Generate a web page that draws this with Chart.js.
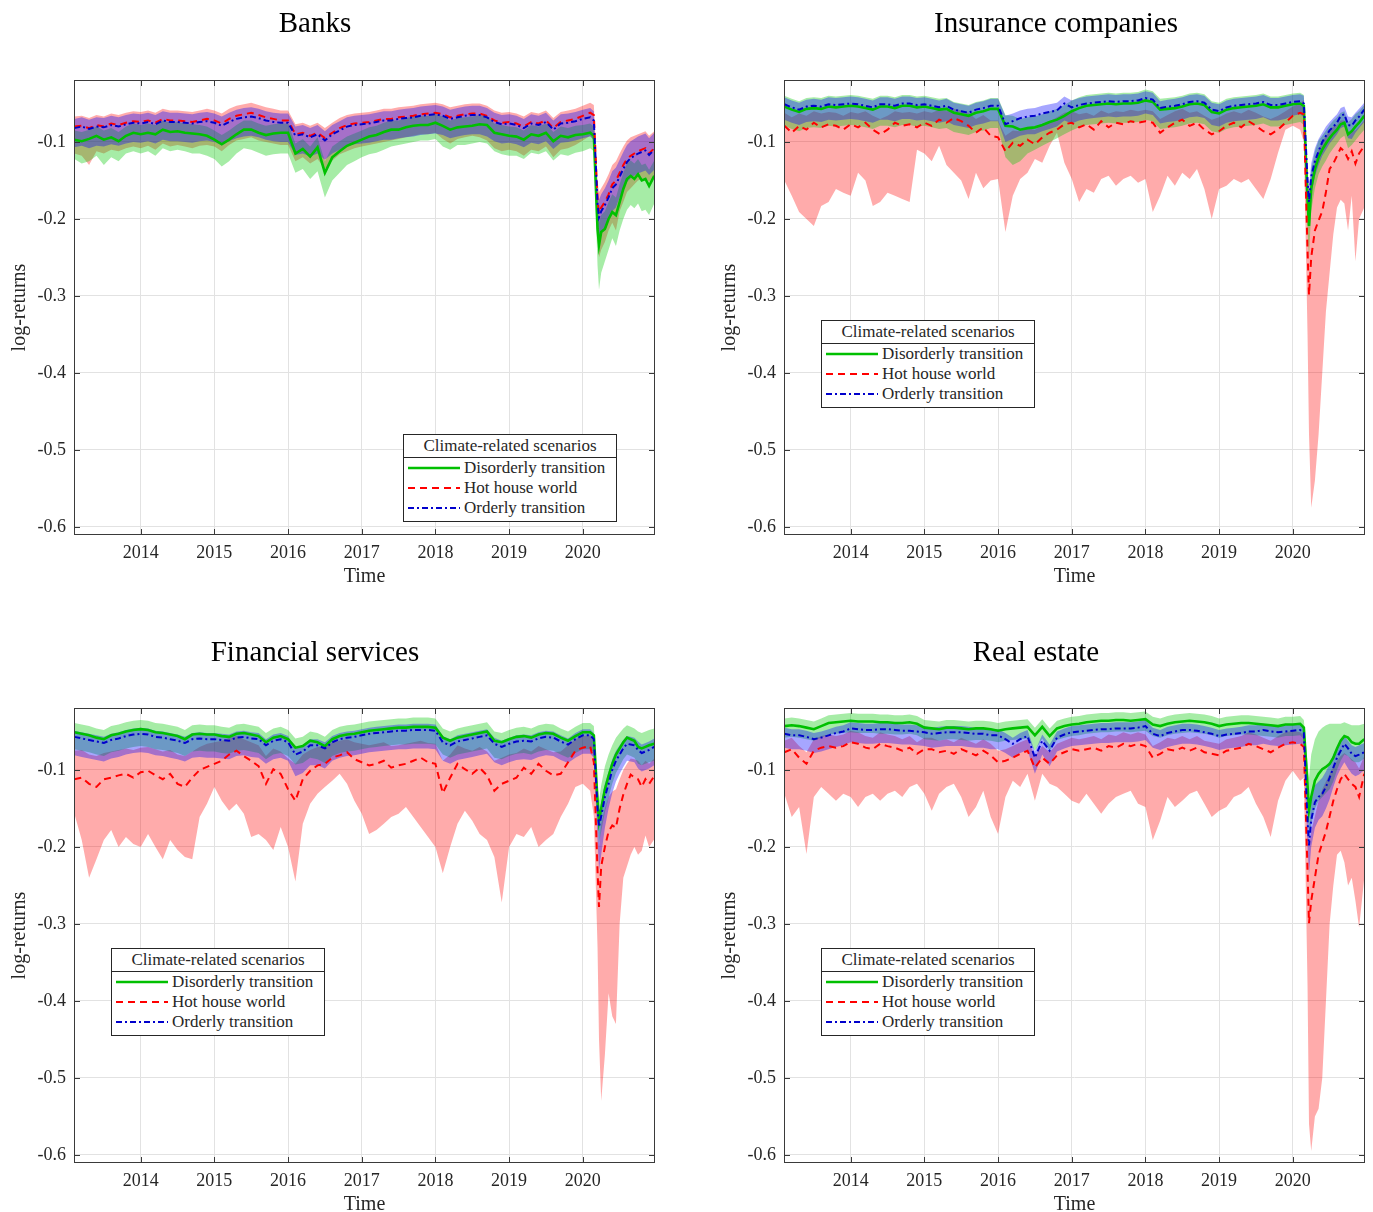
<!DOCTYPE html>
<html>
<head>
<meta charset="utf-8">
<script src="https://cdn.jsdelivr.net/npm/chart.js@4.4.0/dist/chart.umd.min.js"></script>
<style>
  body { margin: 0; width: 1373px; height: 1212px; overflow: hidden; background: #fff; position: relative; }
  canvas { position: absolute; }
  .ttl { position: absolute; width: 600px; text-align: center; font: 29px 'Liberation Serif', 'Times New Roman', serif; line-height: 34px; color: #000; }
  .lg { position: absolute; width: 212px; border: 1px solid #262626; background: #fff; font: 17px 'Liberation Serif', 'Times New Roman', serif; color: #262626; padding-bottom: 3px; }
  .lg .lt { height: 22px; line-height: 22px; text-align: center; border-bottom: 1px solid #262626; }
  .lg .row { height: 20px; display: flex; align-items: center; }
  .lg svg { margin-left: 3px; margin-right: 3px; }
</style>
</head>
<body>
<canvas id="c1" width="686" height="590" style="left:0;top:0"></canvas>
<canvas id="c2" width="663" height="590" style="left:710px;top:0"></canvas>
<canvas id="c3" width="686" height="590" style="left:0;top:628px"></canvas>
<canvas id="c4" width="663" height="590" style="left:710px;top:628px"></canvas>
<script>
// time axis (decimal years), finer around the 2020 crash
const dates = [2013.1,2013.2,2013.3,2013.4,2013.5,2013.6,2013.7,2013.8,2013.9,
  2014.0,2014.1,2014.2,2014.3,2014.4,2014.5,2014.6,2014.7,2014.8,2014.9,
  2015.0,2015.1,2015.2,2015.3,2015.4,2015.5,2015.6,2015.7,2015.8,2015.9,
  2016.0,2016.1,2016.2,2016.3,2016.4,2016.5,2016.6,2016.7,2016.8,2016.9,
  2017.0,2017.1,2017.2,2017.3,2017.4,2017.5,2017.6,2017.7,2017.8,2017.9,
  2018.0,2018.1,2018.2,2018.3,2018.4,2018.5,2018.6,2018.7,2018.8,2018.9,
  2019.0,2019.1,2019.2,2019.3,2019.4,2019.5,2019.6,2019.7,2019.8,2019.9,
  2020.0,2020.1,
  2020.15,2020.2,2020.22,2020.25,2020.3,2020.35,2020.4,2020.45,2020.5,2020.55,2020.6,2020.65,2020.7,2020.75,2020.8,2020.85,2020.9,2020.97];

const legendTitle = 'Climate-related scenarios';
const scenarioNames = ['Disorderly transition', 'Hot house world', 'Orderly transition'];
const yearTicks = [2014, 2015, 2016, 2017, 2018, 2019, 2020];
const yTicks = [-0.6, -0.5, -0.4, -0.3, -0.2, -0.1];

// all series values are log-returns x 1000

// Banks
const banksGreen = [-97,-99,-96,-92,-97,-94,-99,-92,-88,
  -90,-88,-90,-84,-87,-86,-88,-89,-90,-92,
  -97,-103,-97,-90,-84,-84,-88,-91,-89,-88,
  -88,-115,-109,-119,-107,-140,-120,-112,-105,-101,
  -97,-93,-91,-87,-84,-84,-81,-79,-78,-78,
  -75,-79,-84,-81,-80,-79,-77,-78,-88,-90,
  -92,-93,-97,-90,-92,-88,-99,-92,-94,-91,
  -90,-88,
  -92,-213,-234,-217,-213,-200,-191,-195,-178,-161,-148,-144,-148,-142,-150,-148,-157,-144];
const banksGreenLo = [-122,-128,-125,-118,-130,-120,-125,-115,-112,
  -115,-112,-118,-108,-112,-110,-112,-115,-115,-118,
  -122,-132,-125,-115,-108,-110,-114,-118,-116,-115,
  -115,-140,-135,-148,-138,-172,-150,-140,-130,-125,
  -120,-116,-114,-110,-106,-104,-102,-100,-98,-98,
  -96,-106,-110,-104,-104,-102,-100,-102,-112,-116,
  -118,-118,-122,-114,-116,-112,-124,-116,-118,-114,
  -112,-108,
  -112,-260,-292,-270,-255,-240,-225,-235,-215,-200,-188,-182,-186,-180,-190,-188,-195,-180];
const banksGreenHi = [-85,-87,-84,-80,-85,-82,-87,-80,-76,
  -78,-76,-78,-72,-75,-74,-76,-77,-78,-80,
  -85,-91,-85,-78,-72,-72,-76,-79,-77,-76,
  -76,-102,-96,-106,-94,-125,-106,-99,-93,-89,
  -85,-81,-79,-75,-72,-72,-69,-67,-66,-66,
  -63,-67,-72,-69,-68,-67,-65,-66,-76,-78,
  -80,-81,-85,-78,-80,-76,-87,-80,-82,-79,
  -78,-76,
  -80,-190,-205,-195,-190,-178,-168,-172,-155,-140,-128,-124,-128,-122,-130,-128,-136,-124];
const banksRed = [-80,-79,-82,-78,-80,-76,-78,-75,-73,
  -74,-72,-75,-70,-72,-72,-73,-74,-72,-70,
  -72,-76,-70,-66,-64,-62,-65,-68,-70,-72,
  -72,-90,-88,-92,-88,-95,-88,-82,-78,-76,
  -75,-74,-72,-70,-70,-68,-67,-66,-64,-63,
  -62,-64,-68,-66,-64,-63,-63,-66,-72,-75,
  -74,-76,-80,-74,-76,-72,-82,-74,-72,-70,
  -66,-62,
  -65,-175,-192,-185,-178,-168,-155,-150,-140,-130,-122,-118,-115,-112,-110,-108,-115,-108];
const banksRedLo = [-115,-118,-130,-112,-115,-110,-112,-108,-106,
  -108,-105,-110,-102,-106,-104,-106,-108,-105,-104,
  -106,-112,-104,-98,-96,-94,-98,-100,-102,-104,
  -104,-125,-120,-128,-122,-135,-124,-116,-112,-108,
  -106,-104,-102,-100,-98,-96,-94,-92,-90,-90,
  -88,-96,-102,-96,-94,-92,-94,-98,-108,-112,
  -110,-112,-118,-110,-112,-106,-120,-110,-108,-104,
  -98,-92,
  -98,-225,-250,-240,-230,-215,-205,-215,-190,-178,-165,-160,-155,-150,-148,-146,-152,-145];
const banksRedHi = [-67,-66,-69,-65,-67,-63,-65,-62,-60,
  -61,-59,-62,-57,-59,-59,-60,-61,-59,-57,
  -59,-63,-57,-53,-51,-49,-52,-55,-57,-59,
  -59,-77,-75,-79,-75,-82,-75,-69,-65,-63,
  -62,-61,-59,-57,-57,-55,-54,-53,-51,-50,
  -49,-51,-55,-53,-51,-50,-50,-53,-59,-62,
  -61,-63,-67,-61,-63,-59,-69,-61,-59,-57,
  -53,-49,
  -52,-150,-165,-160,-152,-142,-130,-125,-115,-106,-98,-94,-92,-90,-88,-86,-92,-86];
const banksBlue = [-82,-80,-83,-80,-81,-78,-80,-77,-75,
  -76,-74,-77,-72,-74,-74,-75,-76,-74,-73,
  -75,-79,-74,-70,-68,-67,-69,-72,-74,-75,
  -75,-92,-90,-94,-90,-98,-90,-85,-80,-78,
  -77,-76,-74,-72,-72,-70,-69,-68,-66,-65,
  -64,-66,-70,-68,-66,-65,-65,-68,-74,-77,
  -76,-78,-82,-76,-78,-74,-84,-76,-75,-73,
  -70,-68,
  -72,-180,-198,-190,-182,-172,-160,-155,-145,-135,-126,-121,-118,-115,-113,-111,-117,-110];
const banksBlueLo = [-107,-105,-108,-105,-106,-103,-105,-102,-100,
  -101,-99,-102,-97,-99,-99,-100,-101,-99,-98,
  -100,-104,-99,-95,-93,-92,-94,-97,-99,-100,
  -100,-117,-115,-119,-115,-123,-115,-110,-105,-103,
  -102,-101,-99,-97,-97,-95,-94,-93,-91,-90,
  -89,-91,-95,-93,-91,-90,-90,-93,-99,-102,
  -101,-103,-107,-101,-103,-99,-109,-101,-100,-98,
  -95,-93,
  -97,-210,-228,-220,-212,-200,-190,-185,-172,-162,-152,-147,-144,-141,-139,-137,-143,-136];
const banksBlueHi = [-70,-68,-71,-68,-69,-66,-68,-65,-63,
  -64,-62,-65,-60,-62,-62,-63,-64,-62,-61,
  -63,-67,-62,-58,-56,-55,-57,-60,-62,-63,
  -63,-80,-78,-82,-78,-86,-78,-73,-68,-66,
  -65,-64,-62,-60,-60,-58,-57,-56,-54,-53,
  -52,-54,-58,-56,-54,-53,-53,-56,-62,-65,
  -64,-66,-70,-64,-66,-62,-72,-64,-63,-61,
  -58,-56,
  -60,-160,-175,-168,-160,-150,-138,-133,-123,-113,-104,-99,-96,-93,-91,-89,-95,-88];

// Insurance companies
const insGreen = [-54,-58,-61,-57,-56,-57,-54,-55,-54,
  -53,-54,-56,-58,-54,-54,-56,-53,-53,-55,
  -54,-56,-58,-57,-62,-64,-66,-62,-60,-57,
  -57,-79,-80,-84,-82,-81,-78,-74,-71,-66,
  -60,-56,-53,-52,-51,-50,-51,-50,-50,-49,
  -46,-48,-58,-57,-56,-54,-51,-50,-52,-61,
  -63,-58,-56,-55,-54,-53,-51,-55,-55,-53,
  -51,-50,
  -53,-175,-209,-160,-135,-120,-110,-102,-95,-89,-84,-77,-75,-90,-86,-80,-75,-66];
const insGreenLo = [-79,-83,-86,-82,-81,-82,-79,-80,-79,
  -78,-79,-81,-83,-79,-79,-81,-78,-78,-80,
  -79,-81,-83,-82,-87,-89,-91,-87,-85,-82,
  -82,-120,-130,-125,-115,-110,-105,-100,-95,-90,
  -85,-81,-78,-77,-76,-75,-76,-75,-75,-74,
  -71,-73,-83,-82,-81,-79,-76,-75,-77,-86,
  -88,-83,-81,-80,-79,-78,-76,-80,-80,-78,
  -76,-74,
  -78,-215,-250,-190,-160,-142,-132,-124,-115,-108,-102,-95,-92,-108,-104,-98,-92,-84];
const insGreenHi = [-40,-44,-47,-43,-42,-43,-40,-41,-40,
  -39,-40,-42,-44,-40,-40,-42,-39,-39,-41,
  -40,-42,-44,-43,-48,-50,-52,-48,-46,-43,
  -43,-65,-66,-70,-68,-67,-64,-60,-57,-52,
  -46,-42,-39,-38,-37,-36,-37,-36,-36,-35,
  -32,-34,-44,-43,-42,-40,-37,-36,-38,-47,
  -49,-44,-42,-41,-40,-39,-37,-41,-41,-39,
  -37,-36,
  -39,-150,-180,-135,-112,-98,-92,-85,-78,-72,-68,-62,-60,-74,-70,-64,-60,-52];
const insRed = [-79,-88,-79,-84,-75,-81,-77,-79,-84,
  -77,-81,-75,-84,-90,-84,-75,-79,-77,-81,
  -75,-79,-71,-75,-69,-73,-79,-88,-81,-92,
  -94,-112,-101,-105,-97,-103,-94,-88,-84,-77,
  -75,-81,-77,-84,-73,-81,-75,-77,-73,-75,
  -73,-75,-88,-81,-75,-71,-79,-75,-84,-90,
  -86,-79,-75,-81,-73,-79,-86,-90,-84,-75,
  -66,-62,
  -64,-240,-299,-250,-215,-202,-190,-165,-135,-128,-118,-108,-112,-122,-112,-128,-115,-105];
const insRedLo = [-150,-170,-191,-200,-209,-183,-178,-161,-166,
  -170,-140,-150,-183,-178,-166,-170,-174,-178,-110,
  -115,-125,-105,-130,-140,-150,-174,-140,-160,-150,
  -148,-217,-170,-148,-140,-122,-127,-105,-88,-127,
  -148,-178,-161,-166,-148,-144,-157,-148,-144,-153,
  -148,-191,-170,-144,-157,-140,-148,-135,-161,-200,
  -161,-157,-148,-153,-148,-161,-174,-148,-114,-84,
  -79,-84,
  -100,-350,-480,-575,-540,-480,-400,-320,-270,-220,-185,-175,-180,-215,-170,-255,-200,-185];
const insRedHi = [-62,-68,-63,-66,-60,-63,-61,-62,-66,
  -61,-63,-60,-66,-70,-66,-60,-62,-61,-63,
  -60,-62,-58,-60,-57,-59,-62,-70,-65,-72,
  -72,-92,-85,-86,-82,-84,-78,-73,-68,-62,
  -60,-64,-62,-66,-59,-63,-60,-61,-58,-60,
  -58,-60,-70,-65,-60,-57,-62,-60,-66,-71,
  -68,-63,-60,-63,-58,-62,-67,-70,-66,-60,
  -54,-50,
  -45,-130,-170,-150,-125,-110,-100,-92,-85,-80,-78,-72,-72,-88,-85,-85,-80,-72];
const insBlue = [-51,-55,-58,-54,-53,-54,-51,-52,-51,
  -50,-51,-53,-55,-51,-51,-53,-50,-50,-52,
  -51,-53,-55,-53,-58,-60,-62,-58,-56,-53,
  -53,-77,-73,-69,-67,-66,-63,-61,-59,-50,
  -55,-52,-50,-49,-48,-47,-48,-47,-47,-46,
  -43,-45,-56,-54,-53,-51,-48,-47,-49,-58,
  -60,-55,-53,-52,-51,-50,-48,-52,-52,-50,
  -48,-47,
  -50,-150,-178,-145,-125,-112,-100,-92,-85,-80,-75,-66,-64,-78,-79,-72,-67,-58];
const insBlueLo = [-71,-75,-78,-74,-73,-74,-71,-72,-71,
  -70,-71,-73,-75,-71,-71,-73,-70,-70,-72,
  -71,-73,-75,-73,-78,-80,-82,-78,-76,-73,
  -73,-100,-96,-92,-90,-90,-86,-83,-80,-72,
  -76,-72,-70,-69,-68,-67,-68,-67,-67,-66,
  -63,-65,-76,-74,-73,-71,-68,-67,-69,-78,
  -80,-75,-73,-72,-71,-70,-68,-72,-72,-70,
  -66,-64,
  -68,-180,-205,-170,-145,-130,-118,-110,-102,-96,-90,-82,-80,-95,-96,-88,-82,-74];
const insBlueHi = [-42,-46,-49,-45,-44,-45,-42,-43,-42,
  -41,-42,-44,-46,-42,-42,-44,-41,-41,-43,
  -42,-44,-46,-44,-49,-51,-53,-49,-47,-44,
  -44,-66,-63,-59,-57,-56,-53,-51,-49,-41,
  -46,-43,-41,-40,-39,-38,-39,-38,-38,-37,
  -34,-36,-47,-45,-44,-42,-39,-38,-40,-49,
  -51,-46,-44,-43,-42,-41,-39,-43,-43,-41,
  -39,-38,
  -40,-135,-158,-128,-108,-96,-88,-80,-74,-69,-64,-56,-54,-67,-68,-62,-57,-49];

// Financial services
const finGreen = [-51,-53,-55,-58,-60,-55,-53,-50,-48,
  -47,-48,-51,-52,-54,-56,-60,-54,-53,-54,
  -54,-56,-57,-53,-52,-54,-56,-64,-58,-56,
  -60,-71,-69,-62,-64,-69,-60,-56,-54,-53,
  -51,-49,-48,-47,-46,-45,-45,-44,-44,-44,
  -45,-58,-62,-58,-56,-54,-52,-50,-62,-64,
  -60,-57,-56,-58,-54,-52,-53,-58,-62,-56,
  -51,-51,
  -55,-140,-166,-150,-125,-108,-92,-80,-72,-64,-58,-60,-62,-70,-72,-70,-68,-66];
const finGreenLo = [-73,-75,-77,-80,-82,-77,-75,-72,-70,
  -69,-70,-73,-74,-76,-78,-82,-76,-75,-76,
  -76,-78,-79,-75,-74,-76,-78,-86,-80,-78,
  -82,-93,-91,-84,-86,-91,-82,-78,-76,-75,
  -73,-71,-70,-69,-68,-67,-67,-66,-66,-66,
  -67,-80,-84,-80,-78,-76,-74,-72,-84,-86,
  -82,-79,-78,-80,-76,-74,-75,-80,-84,-78,
  -73,-73,
  -77,-165,-195,-180,-155,-136,-118,-104,-95,-86,-80,-82,-84,-92,-94,-92,-90,-88];
const finGreenHi = [-39,-41,-43,-46,-48,-43,-41,-38,-36,
  -35,-36,-39,-40,-42,-44,-48,-42,-41,-42,
  -42,-44,-45,-41,-40,-42,-44,-52,-46,-44,
  -48,-59,-57,-50,-52,-57,-48,-44,-42,-41,
  -39,-37,-36,-35,-34,-33,-33,-32,-32,-32,
  -33,-46,-50,-46,-44,-42,-40,-38,-50,-52,
  -48,-45,-44,-46,-42,-40,-41,-46,-50,-44,
  -39,-39,
  -43,-120,-140,-120,-95,-80,-68,-58,-52,-46,-42,-44,-46,-50,-52,-50,-48,-46];
const finRed = [-112,-110,-118,-122,-112,-110,-107,-105,-110,
  -103,-101,-107,-112,-105,-118,-122,-110,-100,-96,
  -92,-88,-80,-75,-82,-88,-95,-118,-99,-105,
  -125,-140,-112,-101,-94,-92,-84,-81,-77,-86,
  -90,-94,-92,-88,-97,-94,-92,-88,-84,-90,
  -92,-130,-110,-92,-99,-105,-97,-107,-127,-118,
  -114,-110,-97,-105,-92,-101,-107,-105,-90,-75,
  -71,-69,
  -90,-230,-278,-225,-200,-180,-172,-175,-150,-132,-118,-106,-110,-112,-122,-112,-118,-108];
const finRedLo = [-157,-191,-240,-216,-191,-178,-200,-187,-196,
  -200,-183,-200,-216,-191,-204,-213,-216,-161,-144,
  -122,-140,-153,-144,-157,-187,-183,-191,-204,-174,
  -200,-245,-170,-144,-131,-122,-114,-105,-118,-140,
  -157,-183,-178,-170,-161,-157,-148,-161,-174,-187,
  -200,-234,-200,-170,-153,-166,-183,-191,-213,-272,
  -200,-183,-187,-174,-200,-191,-183,-161,-144,-122,
  -118,-127,
  -160,-330,-450,-530,-470,-390,-420,-430,-300,-240,-225,-210,-200,-210,-205,-185,-200,-190];
const finRedHi = [-75,-74,-80,-82,-78,-76,-74,-72,-74,
  -71,-70,-73,-76,-74,-80,-82,-76,-70,-66,
  -64,-62,-58,-56,-60,-64,-68,-82,-72,-76,
  -85,-92,-80,-74,-70,-68,-64,-62,-60,-64,
  -66,-68,-66,-64,-69,-68,-66,-64,-62,-65,
  -66,-88,-80,-68,-72,-75,-70,-76,-88,-84,
  -80,-78,-72,-76,-69,-73,-77,-76,-68,-60,
  -56,-55,
  -60,-165,-200,-170,-150,-135,-128,-125,-112,-100,-92,-85,-86,-88,-94,-88,-92,-85];
const finBlue = [-57,-59,-61,-63,-65,-61,-59,-56,-54,
  -53,-54,-57,-58,-60,-62,-65,-60,-59,-60,
  -60,-61,-62,-58,-57,-59,-60,-68,-62,-60,
  -64,-80,-76,-68,-68,-72,-64,-60,-58,-57,
  -55,-53,-52,-51,-50,-49,-49,-48,-48,-48,
  -49,-64,-68,-63,-61,-59,-57,-55,-66,-70,
  -66,-63,-62,-63,-59,-57,-58,-63,-67,-60,
  -55,-55,
  -60,-150,-174,-160,-135,-118,-100,-88,-80,-72,-66,-67,-68,-74,-78,-76,-74,-70];
const finBlueLo = [-81,-83,-85,-87,-89,-85,-83,-80,-78,
  -77,-78,-81,-82,-84,-86,-89,-84,-83,-84,
  -84,-85,-86,-82,-81,-83,-84,-92,-86,-84,
  -88,-108,-104,-94,-94,-98,-88,-84,-82,-81,
  -79,-77,-76,-75,-74,-73,-73,-72,-72,-72,
  -73,-88,-92,-87,-85,-83,-81,-79,-90,-94,
  -90,-87,-86,-87,-83,-81,-82,-87,-91,-84,
  -79,-79,
  -84,-190,-230,-210,-175,-150,-130,-115,-105,-96,-88,-89,-90,-98,-102,-100,-98,-94];
const finBlueHi = [-49,-51,-53,-55,-57,-53,-51,-48,-46,
  -45,-46,-49,-50,-52,-54,-57,-52,-51,-52,
  -52,-53,-54,-50,-49,-51,-52,-60,-54,-52,
  -56,-72,-68,-60,-60,-64,-56,-52,-50,-49,
  -47,-45,-44,-43,-42,-41,-41,-40,-40,-40,
  -41,-56,-60,-55,-53,-51,-49,-47,-58,-62,
  -58,-55,-54,-55,-51,-49,-50,-55,-59,-52,
  -47,-47,
  -52,-135,-158,-142,-118,-102,-86,-75,-68,-61,-56,-57,-58,-63,-67,-65,-63,-59];

// Real estate
const reGreen = [-43,-42,-43,-45,-47,-43,-39,-38,-37,
  -36,-37,-37,-37,-38,-38,-39,-39,-38,-40,
  -45,-46,-47,-45,-45,-46,-47,-46,-46,-47,
  -49,-47,-46,-45,-44,-55,-44,-56,-46,-43,
  -41,-40,-38,-37,-36,-36,-35,-35,-36,-35,
  -34,-41,-43,-40,-38,-37,-36,-37,-38,-40,
  -43,-41,-40,-39,-39,-40,-41,-42,-43,-41,
  -41,-40,
  -45,-120,-153,-135,-114,-105,-99,-96,-92,-84,-72,-62,-56,-58,-64,-66,-66,-60];
const reGreenLo = [-58,-57,-58,-60,-62,-58,-54,-53,-52,
  -51,-52,-52,-52,-53,-53,-54,-54,-53,-55,
  -60,-61,-62,-60,-60,-61,-62,-61,-61,-62,
  -64,-62,-61,-60,-59,-75,-59,-75,-61,-58,
  -56,-55,-53,-52,-51,-51,-50,-50,-51,-50,
  -49,-56,-58,-55,-53,-52,-51,-52,-53,-55,
  -58,-56,-55,-54,-54,-55,-56,-57,-58,-56,
  -56,-55,
  -60,-150,-190,-170,-150,-140,-135,-130,-125,-115,-100,-88,-80,-82,-88,-90,-90,-85];
const reGreenHi = [-33,-32,-33,-35,-37,-33,-29,-28,-27,
  -26,-27,-27,-27,-28,-28,-29,-29,-28,-30,
  -35,-36,-37,-35,-35,-36,-37,-36,-36,-37,
  -39,-37,-36,-35,-34,-45,-34,-46,-36,-33,
  -31,-30,-28,-27,-26,-26,-25,-25,-26,-25,
  -24,-31,-33,-30,-28,-27,-26,-27,-28,-30,
  -33,-31,-30,-29,-29,-30,-31,-32,-33,-31,
  -31,-30,
  -35,-90,-110,-80,-60,-50,-45,-42,-40,-40,-40,-40,-38,-40,-42,-42,-42,-40];
const reRed = [-77,-73,-84,-92,-75,-71,-69,-71,-69,
  -64,-66,-71,-73,-66,-69,-71,-75,-71,-79,
  -73,-73,-77,-75,-79,-73,-77,-81,-75,-81,
  -90,-88,-84,-79,-75,-97,-84,-92,-81,-77,
  -73,-75,-73,-71,-75,-69,-71,-66,-69,-66,
  -69,-84,-79,-73,-75,-71,-75,-71,-77,-79,
  -81,-75,-73,-71,-66,-69,-73,-77,-71,-66,
  -64,-66,
  -70,-230,-299,-270,-240,-210,-195,-180,-160,-140,-125,-112,-105,-112,-118,-122,-135,-105];
const reRedLo = [-131,-161,-148,-209,-135,-122,-131,-140,-131,
  -135,-148,-135,-131,-140,-131,-127,-135,-122,-118,
  -131,-153,-131,-122,-118,-135,-161,-148,-127,-161,
  -183,-135,-114,-122,-105,-140,-105,-118,-122,-131,
  -140,-144,-131,-144,-157,-144,-135,-131,-127,-144,
  -148,-191,-166,-135,-148,-140,-131,-127,-144,-161,
  -153,-148,-135,-131,-122,-144,-161,-187,-140,-114,
  -101,-114,
  -110,-380,-560,-595,-550,-540,-500,-400,-300,-250,-210,-205,-220,-250,-240,-270,-305,-240];
const reRedHi = [-62,-58,-69,-77,-60,-56,-54,-56,-54,
  -49,-51,-56,-58,-51,-54,-56,-60,-56,-64,
  -58,-58,-62,-60,-64,-58,-62,-66,-60,-66,
  -75,-73,-69,-64,-60,-82,-69,-77,-66,-62,
  -58,-60,-58,-56,-60,-54,-56,-51,-54,-51,
  -54,-69,-64,-58,-60,-56,-60,-56,-62,-64,
  -66,-60,-58,-56,-51,-54,-58,-62,-56,-51,
  -49,-51,
  -55,-160,-200,-180,-160,-140,-125,-115,-105,-95,-88,-82,-78,-82,-86,-90,-98,-82];
const reBlue = [-53,-55,-55,-57,-60,-58,-55,-52,-50,
  -46,-47,-48,-48,-47,-47,-48,-49,-49,-50,
  -51,-53,-52,-51,-51,-51,-52,-53,-53,-55,
  -55,-60,-66,-60,-56,-84,-62,-75,-58,-54,
  -51,-50,-49,-48,-47,-47,-46,-46,-46,-45,
  -43,-53,-56,-52,-50,-48,-48,-49,-51,-53,
  -56,-54,-53,-52,-50,-50,-48,-50,-51,-50,
  -49,-48,
  -52,-165,-198,-165,-142,-135,-131,-122,-110,-97,-84,-75,-66,-72,-79,-82,-80,-77];
const reBlueLo = [-71,-73,-73,-75,-78,-76,-73,-70,-68,
  -64,-65,-66,-66,-65,-65,-66,-67,-67,-68,
  -69,-71,-70,-69,-69,-69,-70,-71,-71,-73,
  -73,-78,-84,-78,-74,-105,-80,-95,-76,-72,
  -69,-68,-67,-66,-65,-65,-64,-64,-64,-63,
  -61,-71,-74,-70,-68,-66,-66,-67,-69,-71,
  -74,-72,-71,-70,-68,-68,-66,-68,-69,-68,
  -67,-66,
  -70,-200,-235,-200,-175,-165,-160,-150,-138,-122,-108,-98,-90,-98,-105,-108,-106,-100];
const reBlueHi = [-45,-47,-47,-49,-52,-50,-47,-44,-42,
  -38,-39,-40,-40,-39,-39,-40,-41,-41,-42,
  -43,-45,-44,-43,-43,-43,-44,-45,-45,-47,
  -47,-52,-58,-52,-48,-76,-54,-67,-50,-46,
  -43,-42,-41,-40,-39,-39,-38,-38,-38,-37,
  -35,-45,-48,-44,-42,-40,-40,-41,-43,-45,
  -48,-46,-45,-44,-42,-42,-40,-42,-43,-42,
  -41,-40,
  -44,-140,-170,-140,-120,-115,-110,-102,-92,-80,-70,-62,-56,-62,-68,-70,-68,-65];

const FONT = "'Liberation Serif', 'Times New Roman', serif";
const INK = '#262626';

function pts(arr) {
  return dates.map((d, i) => ({ x: d, y: arr[i] / 1000 }));
}

function band(lo, hi, color, order) {
  return [
    { data: pts(lo), borderWidth: 0, pointRadius: 0, fill: false, order: order },
    { data: pts(hi), borderWidth: 0, pointRadius: 0, fill: '-1', backgroundColor: color, order: order }
  ];
}

// MATLAB style box with inward tick marks
const frame = {
  id: 'frame',
  afterDatasetsDraw(chart) {
    const { ctx, chartArea: a, scales: { x, y } } = chart;
    ctx.save();
    ctx.strokeStyle = '#3a3a3a';
    ctx.lineWidth = 1;
    ctx.beginPath();
    x.ticks.forEach(t => {
      const px = Math.round(x.getPixelForValue(t.value)) + 0.5;
      ctx.moveTo(px, a.bottom); ctx.lineTo(px, a.bottom - 6);
      ctx.moveTo(px, a.top); ctx.lineTo(px, a.top + 6);
    });
    y.ticks.forEach(t => {
      const py = Math.round(y.getPixelForValue(t.value)) + 0.5;
      ctx.moveTo(a.left, py); ctx.lineTo(a.left + 6, py);
      ctx.moveTo(a.right, py); ctx.lineTo(a.right - 6, py);
    });
    ctx.stroke();
    ctx.strokeRect(a.left + 0.5, a.top + 0.5, a.width - 1, a.height - 1);
    ctx.restore();
  }
};

function makePanel(p) {
  const datasets = [
    ...band(p.green[1], p.green[2], 'rgba(0,200,0,0.35)', 2),
    ...band(p.red[1], p.red[2], 'rgba(255,0,0,0.33)', 3),
    ...band(p.blue[1], p.blue[2], 'rgba(0,0,255,0.35)', 1),
    { label: scenarioNames[0], data: pts(p.green[0]), borderColor: '#00c000', borderWidth: 2.6, pointRadius: 0, fill: false, order: 0.2 },
    { label: scenarioNames[1], data: pts(p.red[0]), borderColor: '#ff0000', borderWidth: 2, borderDash: [7, 5], pointRadius: 0, fill: false, order: 0.1 },
    { label: scenarioNames[2], data: pts(p.blue[0]), borderColor: '#0000cc', borderWidth: 2, borderDash: [6, 3, 2, 3], pointRadius: 0, fill: false, order: 0 }
  ];

  new Chart(document.getElementById(p.id), {
    type: 'line',
    data: { datasets: datasets },
    plugins: [frame],
    options: {
      responsive: false,
      animation: false,
      devicePixelRatio: 1,
      layout: { padding: { top: 80, right: p.padRight, left: 0, bottom: 0 } },
      plugins: { legend: { display: false }, tooltip: { enabled: false } },
      elements: { line: { tension: 0 } },
      scales: {
        x: {
          type: 'linear',
          min: 2013.095,
          max: 2020.98,
          afterFit: s => { s.height = 55; },
          afterBuildTicks: s => { s.ticks = yearTicks.map(v => ({ value: v })); },
          grid: { color: '#e2e2e2', drawTicks: false },
          border: { display: false },
          ticks: {
            padding: 7, color: INK, maxRotation: 0, autoSkip: false,
            font: { family: FONT, size: 18 },
            callback: v => String(Math.round(v))
          },
          title: { display: true, text: 'Time', color: INK, font: { family: FONT, size: 20 }, padding: { top: 0, bottom: 1 } }
        },
        y: {
          min: -0.6105,
          max: -0.0195,
          afterFit: s => { s.width = 74; },
          afterBuildTicks: s => { s.ticks = yTicks.map(v => ({ value: v })); },
          grid: { color: '#e2e2e2', drawTicks: false },
          border: { display: false },
          ticks: {
            padding: 8, color: INK,
            font: { family: FONT, size: 18 },
            callback: v => v.toFixed(1)
          },
          title: { display: true, text: 'log-returns', color: INK, font: { family: FONT, size: 20 }, padding: { top: 8, bottom: 0 } }
        }
      }
    }
  });

  // title
  const t = document.createElement('div');
  t.className = 'ttl';
  t.textContent = p.title;
  t.style.left = (p.titleX - 300) + 'px';
  t.style.top = (p.titleY - 17) + 'px';
  document.body.appendChild(t);

  // legend box
  const lg = document.createElement('div');
  lg.className = 'lg';
  lg.style.left = p.legend[0] + 'px';
  lg.style.top = p.legend[1] + 'px';
  const samples = [
    '<line x1="1" y1="5" x2="53" y2="5" stroke="#00c000" stroke-width="2.5"/>',
    '<line x1="1" y1="5" x2="53" y2="5" stroke="#ff0000" stroke-width="2" stroke-dasharray="7 5"/>',
    '<line x1="1" y1="5" x2="53" y2="5" stroke="#0000cc" stroke-width="2" stroke-dasharray="6 3 2 3"/>'
  ];
  let html = '<div class="lt">' + legendTitle + '</div>';
  scenarioNames.forEach((name, i) => {
    html += '<div class="row"><svg width="54" height="10">' + samples[i] + '</svg><span>' + name + '</span></div>';
  });
  lg.innerHTML = html;
  document.body.appendChild(lg);
}

const panels = [
  { id: 'c1', title: 'Banks', titleX: 315, titleY: 22, padRight: 31, legend: [403, 434],
    green: [banksGreen, banksGreenLo, banksGreenHi], red: [banksRed, banksRedLo, banksRedHi], blue: [banksBlue, banksBlueLo, banksBlueHi] },
  { id: 'c2', title: 'Insurance companies', titleX: 1056, titleY: 22, padRight: 8, legend: [821, 320],
    green: [insGreen, insGreenLo, insGreenHi], red: [insRed, insRedLo, insRedHi], blue: [insBlue, insBlueLo, insBlueHi] },
  { id: 'c3', title: 'Financial services', titleX: 315, titleY: 651, padRight: 31, legend: [111, 948],
    green: [finGreen, finGreenLo, finGreenHi], red: [finRed, finRedLo, finRedHi], blue: [finBlue, finBlueLo, finBlueHi] },
  { id: 'c4', title: 'Real estate', titleX: 1036, titleY: 651, padRight: 8, legend: [821, 948],
    green: [reGreen, reGreenLo, reGreenHi], red: [reRed, reRedLo, reRedHi], blue: [reBlue, reBlueLo, reBlueHi] }
];

panels.forEach(makePanel);
</script>
</body>
</html>
